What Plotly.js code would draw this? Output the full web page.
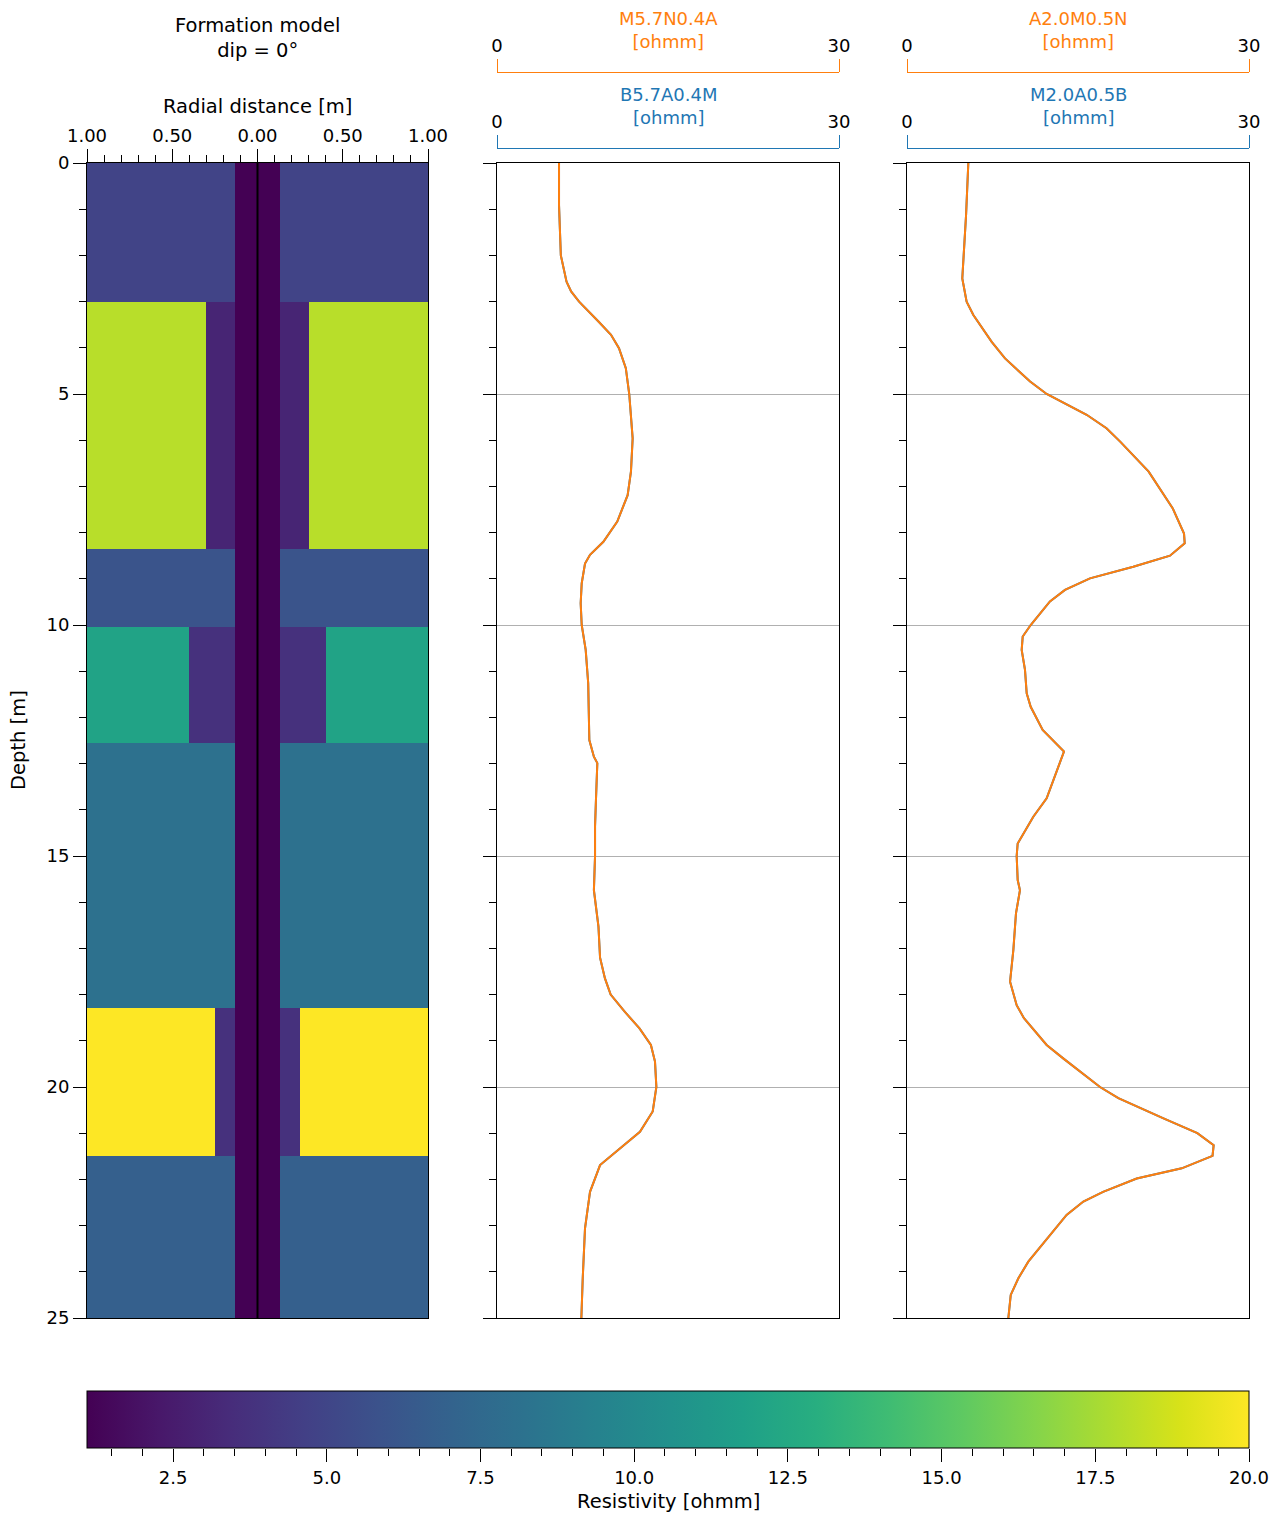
<!DOCTYPE html>
<html><head><meta charset="utf-8">
<script src="https://cdn.plot.ly/plotly-3.0.1.min.js"></script>
<style>html,body{margin:0;padding:0;background:#fff}</style>
</head><body><div id="chart" style="width:1280px;height:1521px"></div>
<script>
// ---- Formation model ----
const layerTop    = [0, 3.0, 8.35, 10.05, 12.55, 18.3, 21.5];
const layerBottom = [3.0, 8.35, 10.05, 12.55, 18.3, 21.5, 25];
const layerRes    = [4.9, 18.0, 6.0, 12.0, 8.1, 20.0, 6.8];
const invRadius   = [0, 0.30, 0, 0.40, 0, 0.25, 0];
const invRes      = [4.9, 3.0, 6.0, 3.7, 8.1, 3.7, 6.8];
const boreholeRadius = 0.13;
const mudRes = 1.1;
const resMin = 1.1, resMax = 20;

// ---- Logs ----
const depthShort = [0,0.91,2.0,2.57,2.78,3.0,3.43,3.72,4.01,4.44,5.0,5.96,6.68,7.19,7.76,8.2,8.48,8.67,9.1,9.53,10.0,10.54,11.26,11.98,12.49,12.85,12.99,13.79,14.36,15.0,15.74,16.53,17.03,17.2,17.65,18.0,18.37,18.73,19.09,19.45,20.0,20.53,20.97,21.33,21.69,22.27,23.06,24.14,25.0];
const M57N04A = [5.44,5.44,5.6,6.1,6.5,7.2,8.9,10.0,10.7,11.3,11.6,11.9,11.75,11.46,10.55,9.33,8.16,7.72,7.43,7.34,7.43,7.78,8.0,8.07,8.1,8.5,8.8,8.68,8.6,8.6,8.5,8.9,8.98,9.04,9.47,9.97,11.2,12.5,13.5,13.86,13.98,13.66,12.54,10.8,9.04,8.16,7.72,7.52,7.4];
const B57A04M = M57N04A.slice();

const depthLat = [0,1.13,2.5,3.0,3.29,3.87,4.23,4.73,5.0,5.45,5.74,6.03,6.68,7.47,8.02,8.23,8.5,8.74,8.99,9.24,9.49,10.0,10.25,10.54,10.97,11.48,11.77,12.27,12.74,12.99,13.28,13.75,14.15,14.73,15.0,15.52,15.74,16.24,17.03,17.29,17.72,18.23,18.51,19.09,19.38,20.0,20.24,20.68,21.0,21.26,21.49,21.76,21.98,22.27,22.48,22.77,23.49,23.78,24.14,24.5,25.0];
const A20M05N = [5.38,5.18,4.85,5.23,5.82,7.43,8.6,10.8,12.25,15.76,17.5,18.7,21.2,23.3,24.3,24.36,23.07,19.85,16.05,13.86,12.54,10.85,10.15,10.06,10.35,10.5,10.85,11.9,13.77,13.4,12.98,12.25,11.08,9.71,9.62,9.71,9.91,9.56,9.33,9.24,9.04,9.62,10.26,12.25,13.7,16.93,18.54,22.5,25.47,26.9,26.8,24.1,20.15,17.2,15.47,14.0,11.6,10.64,9.77,9.1,8.89];
const M20A05B = A20M05N.slice();

const colorTicks = [2.5,5.0,7.5,10.0,12.5,15.0,17.5,20.0];
const radialTicks = [-1,-0.5,0,0.5,1];
const radialText = ['1.00','0.50','0.00','0.50','1.00'];
const scaleTicks = [0, 30];

// ---- Build model grid ----
let edges = [-1, 1, -boreholeRadius, boreholeRadius];
invRadius.forEach(r => { if (r > 0) { edges.push(r); edges.push(-r); } });
edges = Array.from(new Set(edges)).sort((a,b)=>a-b);
const yEdges = layerTop.concat([layerBottom[layerBottom.length-1]]);
const z = layerTop.map((t,i) => {
  const row = [];
  for (let j=0;j<edges.length-1;j++){
    const r = Math.abs((edges[j]+edges[j+1])/2);
    if (r < boreholeRadius) row.push(mudRes);
    else if (r < invRadius[i]) row.push(invRes[i]);
    else row.push(layerRes[i]);
  }
  return row;
});

const W=1280, H=1521;
const px = v => v/W;
const py = v => 1 - v/H;
const FONT = 'DejaVu Sans';
const ORANGE = '#ff7f0e', BLUE = '#1f77b4';

const traces = [
  {type:'heatmap', x:edges, y:yEdges, z:z, xaxis:'x', yaxis:'y', zsmooth:false,
   colorscale:'Viridis', zmin:resMin, zmax:resMax, hoverinfo:'skip',
   colorbar:{orientation:'h', x:px(87), xanchor:'left', y:py(1391), yanchor:'top',
     len:1162, lenmode:'pixels', thickness:57, thicknessmode:'pixels', xpad:0, ypad:0,
     outlinewidth:1, outlinecolor:'#000', ticks:'', showticklabels:false}},
  {type:'scatter', mode:'lines', x:B57A04M, y:depthShort, xaxis:'x2', yaxis:'y2', line:{color:BLUE,width:2}, hoverinfo:'skip'},
  {type:'scatter', mode:'lines', x:M57N04A, y:depthShort, xaxis:'x2', yaxis:'y2', line:{color:ORANGE,width:2}, hoverinfo:'skip'},
  {type:'scatter', mode:'lines', x:M20A05B, y:depthLat, xaxis:'x3', yaxis:'y3', line:{color:BLUE,width:2}, hoverinfo:'skip'},
  {type:'scatter', mode:'lines', x:A20M05N, y:depthLat, xaxis:'x3', yaxis:'y3', line:{color:ORANGE,width:2}, hoverinfo:'skip'},
  {type:'scatter', mode:'markers', x:[], y:[], xaxis:'x4', yaxis:'y4', hoverinfo:'skip'},
  {type:'scatter', mode:'markers', x:[], y:[], xaxis:'x5', yaxis:'y5', hoverinfo:'skip'},
  {type:'scatter', mode:'markers', x:[], y:[], xaxis:'x6', yaxis:'y6', hoverinfo:'skip'},
  {type:'scatter', mode:'markers', x:[], y:[], xaxis:'x7', yaxis:'y7', hoverinfo:'skip'},
  {type:'scatter', mode:'markers', x:[], y:[], xaxis:'x8', yaxis:'y8', hoverinfo:'skip'}
];

const yDom = [py(1318), py(163)];
function depthAxis(anchor, labels, grid){
  return {domain:yDom, anchor:anchor, range:[25,0], tick0:0, dtick:5, ticks:'outside', ticklen:13, tickwidth:1, tickcolor:'#000',
    minor:{dtick:1, tick0:0, ticks:'outside', ticklen:7, tickwidth:1, tickcolor:'#000', showgrid:false},
    showticklabels:labels, tickfont:{family:FONT,size:18,color:'#000'},
    showgrid:grid, gridcolor:'#b0b0b0', gridwidth:1, zeroline:false,
    showline:true, mirror:true, linecolor:'#000', linewidth:1, fixedrange:true};
}
function trackAxis(dom, anchor){
  return {domain:dom, anchor:anchor, range:[0,30], showticklabels:false, ticks:'', showgrid:false, zeroline:false,
    showline:true, mirror:true, linecolor:'#000', linewidth:1, fixedrange:true};
}
function headerAxis(dom, anchor, color){
  return {domain:dom, anchor:anchor, side:'top', range:[0,30], tickvals:scaleTicks, ticktext:scaleTicks.map(String),
    ticks:'outside', ticklen:13, tickwidth:1, tickcolor:color, showline:true, linecolor:color, linewidth:1,
    showgrid:false, zeroline:false, tickfont:{family:FONT,size:18,color:'#000'}, fixedrange:true};
}
function headerY(ypos, anchor){
  return {domain:[py(ypos)-0.0005, py(ypos)], anchor:anchor, visible:false, fixedrange:true};
}
const d2 = [px(497),px(839)], d3 = [px(907),px(1249)];

const layout = {
  width:W, height:H, margin:{l:0,r:0,t:0,b:0}, paper_bgcolor:'#fff', plot_bgcolor:'rgba(0,0,0,0)', showlegend:false,
  font:{family:FONT, size:18, color:'#000'},
  xaxis:{domain:[px(87),px(428)], anchor:'y', range:[-1,1], side:'top', tickvals:radialTicks, ticktext:radialText,
    ticks:'outside', ticklen:13, tickwidth:1, tickcolor:'#000',
    minor:{dtick:0.1, tick0:0, ticks:'outside', ticklen:7, tickwidth:1, tickcolor:'#000', showgrid:false},
    tickfont:{family:FONT,size:18,color:'#000'}, showgrid:false, zeroline:false,
    showline:true, mirror:true, linecolor:'#000', linewidth:1, fixedrange:true},
  yaxis:depthAxis('x', true, false),
  xaxis2:trackAxis(d2, 'y2'),
  yaxis2:depthAxis('x2', false, true),
  xaxis3:trackAxis(d3, 'y3'),
  yaxis3:depthAxis('x3', false, true),
  xaxis4:headerAxis(d2, 'y4', BLUE),   yaxis4:headerY(149, 'x4'),
  xaxis5:headerAxis(d2, 'y5', ORANGE), yaxis5:headerY(73, 'x5'),
  xaxis7:headerAxis(d3, 'y7', BLUE),   yaxis7:headerY(149, 'x7'),
  xaxis8:headerAxis(d3, 'y8', ORANGE), yaxis8:headerY(73, 'x8'),
  xaxis6:{domain:[px(87),px(1249)], anchor:'y6', range:[resMin,resMax], tickvals:colorTicks, tickformat:'.1f',
    ticks:'outside', ticklen:13, tickwidth:1, tickcolor:'#000',
    minor:{dtick:0.5, tick0:0, ticks:'outside', ticklen:7, tickwidth:1, tickcolor:'#000', showgrid:false},
    tickfont:{family:FONT,size:18,color:'#000'}, showgrid:false, zeroline:false, showline:false, fixedrange:true},
  yaxis6:{domain:[py(1448),py(1391)], anchor:'x6', visible:false, fixedrange:true},
  shapes:[{type:'line', xref:'x', yref:'y', x0:0, x1:0, y0:0, y1:25, layer:'above', line:{color:'#000', width:2}}],
  annotations:[
    {text:'Formation model<br>dip = 0°', xref:'paper', yref:'paper', x:px(257), y:py(38.5), xanchor:'center', yanchor:'middle', showarrow:false, font:{family:FONT,size:19.5,color:'#000'}},
    {text:'Radial distance [m]', xref:'paper', yref:'paper', x:px(257), y:py(106), xanchor:'center', yanchor:'middle', showarrow:false, font:{family:FONT,size:19.5,color:'#000'}},
    {text:'Depth [m]', xref:'paper', yref:'paper', x:px(18), y:py(740), xanchor:'center', yanchor:'middle', textangle:-90, showarrow:false, font:{family:FONT,size:19.5,color:'#000'}},
    {text:'M5.7N0.4A<br>[ohmm]', xref:'paper', yref:'paper', x:px(668), y:py(29.5), xanchor:'center', yanchor:'middle', showarrow:false, font:{family:FONT,size:18,color:ORANGE}},
    {text:'B5.7A0.4M<br>[ohmm]', xref:'paper', yref:'paper', x:px(668), y:py(106), xanchor:'center', yanchor:'middle', showarrow:false, font:{family:FONT,size:18,color:BLUE}},
    {text:'A2.0M0.5N<br>[ohmm]', xref:'paper', yref:'paper', x:px(1078), y:py(29.5), xanchor:'center', yanchor:'middle', showarrow:false, font:{family:FONT,size:18,color:ORANGE}},
    {text:'M2.0A0.5B<br>[ohmm]', xref:'paper', yref:'paper', x:px(1078), y:py(106), xanchor:'center', yanchor:'middle', showarrow:false, font:{family:FONT,size:18,color:BLUE}},
    {text:'Resistivity [ohmm]', xref:'paper', yref:'paper', x:px(668), y:py(1501), xanchor:'center', yanchor:'middle', showarrow:false, font:{family:FONT,size:19.5,color:'#000'}}
  ]
};

Plotly.newPlot('chart', traces, layout, {staticPlot:true, displayModeBar:false});
</script></body></html>
